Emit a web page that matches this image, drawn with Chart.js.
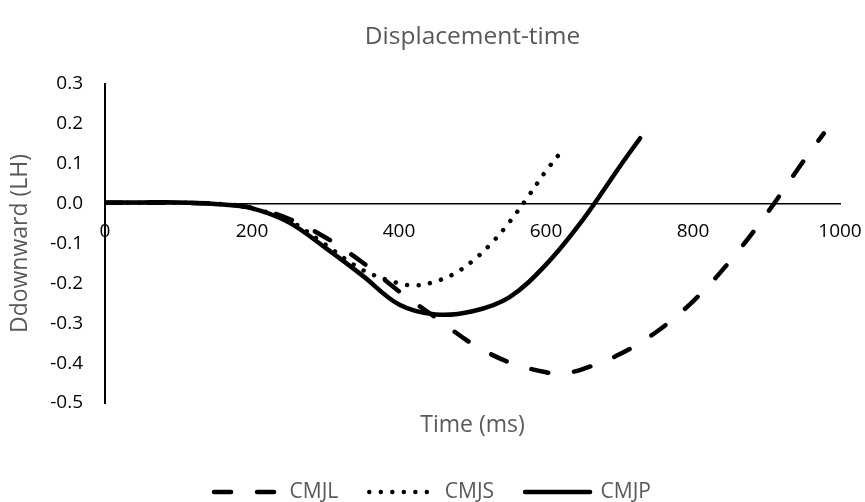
<!DOCTYPE html>
<html>
<head>
<meta charset="utf-8">
<script src="https://cdn.jsdelivr.net/npm/chart.js@4.4.1/dist/chart.umd.min.js"></script>
<style>
  html, body { margin: 0; padding: 0; background: #fff; }
  #wrap { width: 865px; height: 502px; position: relative; }
</style>
</head>
<body>
<div id="wrap"><canvas id="c"></canvas></div>
<script>
// ---- data ----
const titleText = "Displacement-time";
const xTitle = "Time (ms)";
const yTitle = "Ddownward (LH)";
const xTicks = [0, 200, 400, 600, 800, 1000];
const yTicks = [-0.5, -0.4, -0.3, -0.2, -0.1, 0.0, 0.1, 0.2, 0.3];

const cmjlTime = [0, 50, 100, 150, 200, 250, 300, 350, 400, 450, 500, 550, 600, 625, 650, 700, 750, 800, 850, 900, 950, 978];
const cmjlDisp = [0.002, 0.002, 0.002, 0.000, -0.010, -0.038, -0.085, -0.147, -0.220, -0.286, -0.352, -0.398, -0.423, -0.425, -0.415, -0.378, -0.322, -0.245, -0.145, -0.026, 0.106, 0.176];

const cmjsTime = [0, 50, 100, 150, 200, 250, 300, 350, 400, 425, 450, 475, 500, 525, 550, 575, 600, 625];
const cmjsDisp = [0.002, 0.002, 0.002, 0.000, -0.012, -0.042, -0.103, -0.166, -0.200, -0.205, -0.195, -0.176, -0.144, -0.101, -0.047, 0.016, 0.082, 0.140];

const cmjpTime = [0, 50, 100, 150, 200, 250, 300, 350, 400, 450, 500, 550, 600, 650, 700, 728];
const cmjpDisp = [0.003, 0.003, 0.003, -0.001, -0.012, -0.047, -0.111, -0.180, -0.253, -0.278, -0.270, -0.235, -0.153, -0.041, 0.092, 0.164];

const toPts = (xs, ys) => xs.map((x, i) => ({ x: x, y: ys[i] }));

const FONT = "'Open Sans', 'Noto Sans', sans-serif";
const GREY = "#595959";

new Chart(document.getElementById('c'), {
  type: 'line',
  data: {
    datasets: [
      {
        label: 'CMJL',
        data: toPts(cmjlTime, cmjlDisp),
        borderColor: '#000', backgroundColor: '#000',
        borderWidth: 4.5, borderDash: [17, 26], borderCapStyle: 'round',
        pointRadius: 0, tension: 0.35, fill: false
      },
      {
        label: 'CMJS',
        data: toPts(cmjsTime, cmjsDisp),
        borderColor: '#000', backgroundColor: '#000',
        borderWidth: 4.5, borderDash: [0.01, 11.5], borderCapStyle: 'round',
        pointRadius: 0, tension: 0.35, fill: false
      },
      {
        label: 'CMJP',
        data: toPts(cmjpTime, cmjpDisp),
        borderColor: '#000', backgroundColor: '#000',
        borderWidth: 4.5, borderCapStyle: 'round',
        pointRadius: 0, tension: 0.35, fill: false
      }
    ]
  },
  options: {
    responsive: true,
    maintainAspectRatio: false,
    animation: false,
    layout: { padding: { left: 0, right: 0, top: 0, bottom: -10.5 } },
    plugins: {
      title: {
        display: true, text: titleText, color: GREY, fullSize: false,
        font: { family: FONT, size: 24.5, weight: 'normal' },
        padding: { top: 22, bottom: 32.6 }
      },
      legend: {
        position: 'bottom',
        labels: {
          color: GREY,
          font: { family: FONT, size: 21 },
          usePointStyle: true, pointStyle: 'line', pointStyleWidth: 65,
          padding: 31,
          generateLabels: (chart) => {
            const items = Chart.defaults.plugins.legend.labels.generateLabels(chart);
            items.forEach((it) => {
              const ds = chart.data.datasets[it.datasetIndex];
              it.lineDash = ds.borderDash || [];
              it.lineCap = ds.borderCapStyle || 'butt';
              it.lineWidth = ds.borderWidth;
              it.strokeStyle = ds.borderColor;
              it.fillStyle = ds.borderColor;
              it.pointStyle = 'line';
              it.fontColor = GREY;
            });
            return items;
          }
        }
      },
      tooltip: { enabled: false }
    },
    scales: {
      x: {
        type: 'linear', position: { y: 0 },
        min: 0, max: 1000,
        afterBuildTicks: (s) => { s.ticks = xTicks.map(v => ({ value: v })); },
        afterFit: (s) => { s.paddingLeft = 0; s.paddingRight = 25; },
        grid: { display: false, drawTicks: false },
        border: { display: true, color: '#000', width: 1.5 },
        ticks: { color: '#000', font: { family: FONT, size: 19 }, padding: 17, maxRotation: 0, callback: (v) => String(v) }
      },
      x2: {
        type: 'linear', position: 'bottom',
        grid: { display: false, drawTicks: false },
        border: { display: false },
        ticks: { display: false },
        title: { display: true, text: xTitle, color: GREY, font: { family: FONT, size: 23 }, padding: { top: 0, bottom: 11.7 } },
        afterFit: (s) => { s.height = 47.5; s.paddingLeft = 0; s.paddingRight = 0; }
      },
      y: {
        type: 'linear', position: 'left',
        min: -0.5, max: 0.3,
        afterBuildTicks: (s) => { s.ticks = yTicks.map(v => ({ value: v })); },
        grid: { display: false, drawTicks: false },
        border: { display: true, color: '#000', width: 2 },
        ticks: { color: '#000', font: { family: FONT, size: 19 }, padding: 22, callback: (v) => Number(v).toFixed(1) },
        title: { display: true, text: yTitle, color: GREY, font: { family: FONT, size: 23 }, padding: { top: 7, bottom: 0 } },
        afterFit: (s) => { s.width = 105; }
      }
    }
  }
});
</script>
</body>
</html>
